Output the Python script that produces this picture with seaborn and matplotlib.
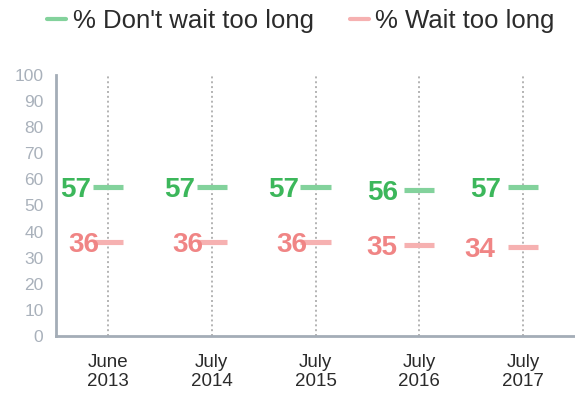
import matplotlib
matplotlib.use("Agg")
import matplotlib.pyplot as plt
from matplotlib.lines import Line2D
import seaborn as sns
import pandas as pd

# Survey results by wave
periods = ["June\n2013", "July\n2014", "July\n2015", "July\n2016", "July\n2017"]
dont_wait = [57, 57, 57, 56, 57]
wait_too_long = [36, 36, 36, 35, 34]
series_names = ["% Don't wait too long", "% Wait too long"]
y_ticks = list(range(0, 101, 10))

# horizontal nudges (in category units) for the value labels
green_label_dx = [-0.16, -0.16, -0.16, -0.20, -0.21]
red_label_dx = [-0.08, -0.08, -0.08, -0.21, -0.27]

GREEN_MARK = "#83d29c"
RED_MARK = "#f6b1b1"
GREEN_TEXT = "#3cb75b"
RED_TEXT = "#f08585"
AXIS_GREY = "#a4adb7"
TICK_TEXT = "#a9b1bb"
DARK = "#2b2b2b"

sns.set_style("white")
plt.rcParams["font.family"] = ["Liberation Sans", "DejaVu Sans"]

df = pd.DataFrame({
    "period": periods * 2,
    "pos": list(range(len(periods))) * 2,
    "value": dont_wait + wait_too_long,
    "series": [series_names[0]] * len(periods) + [series_names[1]] * len(periods),
})

fig = plt.figure(figsize=(5.75, 3.97), dpi=100)
ax = fig.add_axes([56 / 575, (397 - 336) / 397, 1 - 56 / 575, (336 - 75) / 397])

# dotted guide line at each period
for i in range(len(periods)):
    ax.plot([i, i], [0, 100], color="#b3b3b3", linestyle=(0, (1, 1.5)),
            linewidth=1.4, zorder=1)

sns.scatterplot(data=df, x="pos", y="value", hue="series",
                palette=[GREEN_MARK, RED_MARK], marker="_", s=470,
                linewidth=3.7, legend=False, ax=ax, zorder=3)

# value labels: digits vertically centred on the dash
for i, (g, r) in enumerate(zip(dont_wait, wait_too_long)):
    ax.annotate(str(g), xy=(i + green_label_dx[i], g), xytext=(0, -7.2),
                textcoords="offset points", color=GREEN_TEXT, fontsize=20,
                fontweight="bold", ha="right", va="baseline", zorder=4)
    ax.annotate(str(r), xy=(i + red_label_dx[i], r), xytext=(0, -7.2),
                textcoords="offset points", color=RED_TEXT, fontsize=20,
                fontweight="bold", ha="right", va="baseline", zorder=4)

ax.set_xlim(-0.5, len(periods) - 0.5)
ax.set_ylim(0, 100)
ax.set_yticks(y_ticks)
ax.set_yticklabels([str(t) for t in y_ticks], color=TICK_TEXT, fontsize=12.5)

# category labels centred, tick marks at category boundaries
ax.set_xticks(range(len(periods)))
ax.set_xticklabels(periods, fontsize=13.5, color=DARK, linespacing=1.15)
ax.tick_params(axis="x", which="major", length=0, pad=13)
ax.set_xticks([i + 0.5 for i in range(-1, len(periods) - 1)], minor=True)
ax.tick_params(axis="x", which="minor", length=6, width=1.8, color=AXIS_GREY)
ax.tick_params(axis="y", length=5, width=1.4, color=AXIS_GREY, pad=4)
ax.set_xlabel("")
ax.set_ylabel("")

for side in ["top", "right"]:
    ax.spines[side].set_visible(False)
for side in ["left", "bottom"]:
    ax.spines[side].set_color(AXIS_GREY)
    ax.spines[side].set_linewidth(2)

handles = [Line2D([0], [0], color=GREEN_MARK, linewidth=3),
           Line2D([0], [0], color=RED_MARK, linewidth=3)]
fig.legend(handles, series_names, loc="center", bbox_to_anchor=(301 / 575, 1 - 21 / 397),
           ncol=2, frameon=False, fontsize=18.5, handlelength=0.75, handletextpad=0.25,
           columnspacing=1.4, labelcolor=DARK)

fig.savefig("out.png", dpi=100)
